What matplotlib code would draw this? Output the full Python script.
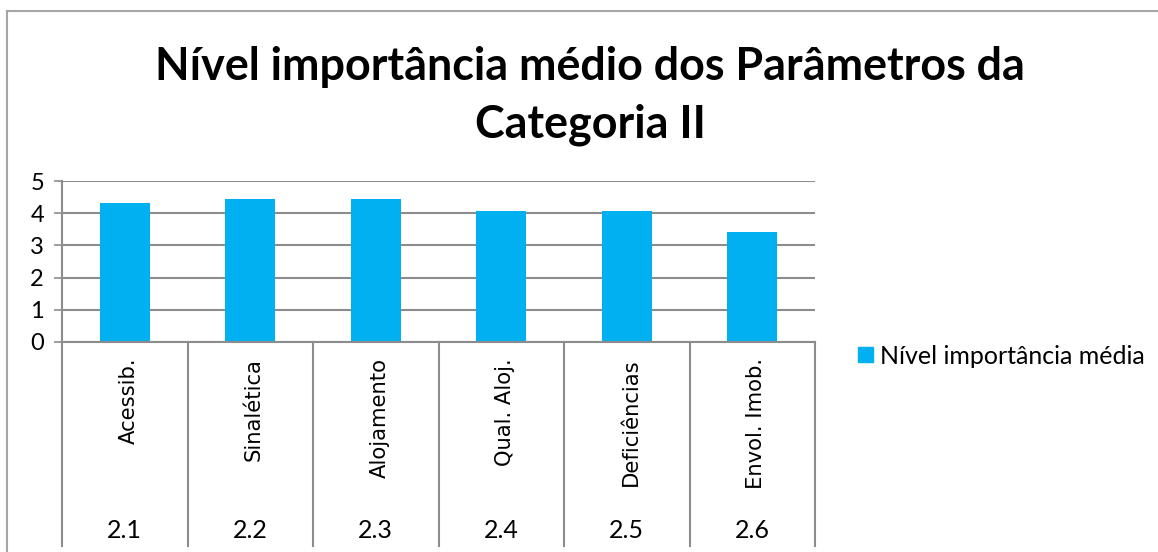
import numpy as np
import matplotlib.pyplot as plt
from matplotlib.lines import Line2D
from matplotlib.patches import Rectangle

codigos = ['2.1', '2.2', '2.3', '2.4', '2.5', '2.6']
parametros = ['Acessib.', 'Sinalética', 'Alojamento', 'Qual. Aloj.', 'Deficiências', 'Envol. Imob.']
nivel_medio = [4.31, 4.43, 4.43, 4.07, 4.07, 3.43]
serie = 'Nível importância média'
titulo = 'Nível importância médio dos Parâmetros da\nCategoria II'

W, H = 1158, 552
azul = '#00B0F0'
cinza = '#8C8C8C'

fig = plt.figure(figsize=(W / 100, H / 100), dpi=100)

# area do grafico (pixeis da imagem original)
x0, x1 = 62, 815
y_top, y_zero = 181, 342
ax = fig.add_axes([x0 / W, 1 - y_zero / H, (x1 - x0) / W, (y_zero - y_top) / H])

x = np.arange(len(nivel_medio))
ax.bar(x, nivel_medio, width=0.4, color=azul, zorder=3)
ax.set_xlim(-0.5, len(nivel_medio) - 0.5)
ax.set_ylim(0, 5)
ax.set_yticks(range(6))
ax.set_yticklabels([str(v) for v in range(6)], fontfamily='Lato', fontsize=17)
ax.tick_params(axis='y', length=6, width=1.2, color=cinza, pad=7)
ax.set_xticks([])
ax.grid(axis='y', color=cinza, linewidth=1.5, zorder=0)
for s in ['top', 'right']:
    ax.spines[s].set_visible(False)
for s in ['left', 'bottom']:
    ax.spines[s].set_color(cinza)
    ax.spines[s].set_linewidth(1.5)
ax.spines['bottom'].set_zorder(4)

# eixo de categorias em dois niveis
h_ax = y_zero - y_top
def ay(py):
    return (y_zero - py) / h_ax

trans = ax.get_xaxis_transform()
for b in np.arange(-0.5, len(nivel_medio), 1.0):
    ax.add_line(Line2D([b, b], [ay(y_zero), ay(494)], transform=trans,
                       color=cinza, lw=1.5, clip_on=False))
    ax.add_line(Line2D([b, b], [ay(496), ay(546)], transform=trans,
                       color=cinza, lw=1.5, clip_on=False))

for i, (p, c) in enumerate(zip(parametros, codigos)):
    ax.text(i + 0.03, ay(358), p, transform=trans, rotation=90, ha='center', va='top',
            fontfamily='DejaVu Sans', fontsize=15.2)
    ax.text(i, ay(531), c, transform=trans, ha='center', va='center',
            fontfamily='Lato', fontsize=18)

# titulo
fig.text(590 / W, 1 - 96 / H, titulo, ha='center', va='center', fontfamily='Lato',
         fontweight='bold', fontsize=32.3, linespacing=1.45)

# legenda
fig.add_artist(Rectangle((858 / W, 1 - 362 / H), 15 / W, 15 / H, color=azul,
                         transform=fig.transFigure))
fig.text(880 / W, 1 - 356 / H, serie, ha='left', va='center', fontfamily='Lato', fontsize=18)

# moldura
fig.add_artist(Line2D([7 / W, 7 / W], [0, 1 - 11 / H], color='#A6A6A6', lw=1.5,
                      transform=fig.transFigure))
fig.add_artist(Line2D([7 / W, 1], [1 - 11 / H, 1 - 11 / H], color='#A6A6A6', lw=1.5,
                      transform=fig.transFigure))

fig.savefig('out.png', dpi=100)
